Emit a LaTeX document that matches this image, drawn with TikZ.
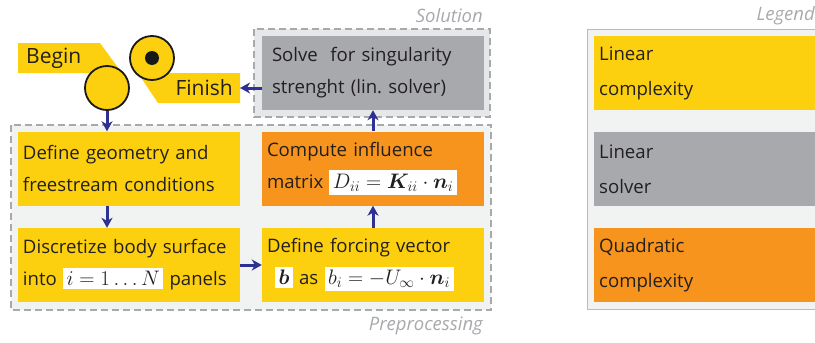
\RequirePackage{fix-cm}
\documentclass[tikz,border=0pt]{standalone}
\usepackage{amsmath,bm}
\usepackage{fontspec}
\setmainfont{Open Sans}
\usetikzlibrary{arrows.meta}
\definecolor{cyel}{HTML}{FDD00F}
\definecolor{cora}{HTML}{F7941D}
\definecolor{cgray}{HTML}{A7A9AC}
\definecolor{cbg}{HTML}{F1F2F2}
\definecolor{cbg2}{HTML}{E6E7E8}
\definecolor{carrow}{HTML}{2E3192}
\definecolor{ctext}{HTML}{231F20}
\newcommand{\mathbx}[1]{{\setlength{\fboxsep}{3.5pt}\colorbox{white}{\fontsize{21}{24}\selectfont$#1$}}}
\begin{document}
\hyphenpenalty=10000
\exhyphenpenalty=10000
\frenchspacing
\begin{tikzpicture}[x=1pt,y=-1pt,
  proc/.style={rectangle, minimum width=222pt, minimum height=74pt, inner xsep=5pt, inner ysep=0pt,
    align=left, text width=212pt, font=\fontsize{18.6}{32}\selectfont, text=ctext},
  legbox/.style={rectangle, anchor=west, minimum width=240pt, minimum height=74pt, inner xsep=5pt, inner ysep=0pt,
    align=left, text width=230pt, font=\fontsize{18.6}{35}\selectfont, text=ctext},
  grp/.style={draw=cgray, dash pattern=on 7pt off 4pt, line width=1.1pt},
  lbl/.style={font=\fontsize{18.5}{22}\selectfont\itshape, text=cgray, inner sep=0pt},
  circ/.style={circle, draw=black!90, line width=1.8pt, fill=cyel, minimum size=44pt, inner sep=0pt},
  bigtxt/.style={font=\fontsize{21}{26}\selectfont, text=ctext, inner sep=0pt},
  arr/.style={draw=carrow, line width=3pt, -{Stealth[length=10pt,width=11pt,inset=3pt]}}]
\useasboundingbox (0,0) rectangle (815,343);
% groups
\draw[grp, fill=cbg] (11,125) rectangle (491,310);
\draw[grp, fill=cbg2] (254,29) rectangle (490,117);
\node[lbl, anchor=east] (solLbl) at (483,16) {Solution};
\node[lbl, anchor=east] (preLbl) at (483,326) {Preprocessing};
% legend
\draw[draw=cgray!80, line width=1pt, fill=cbg] (587,29) rectangle (840,309);
\node[lbl, anchor=east] (legLbl) at (815,16) {Legend};
\node[legbox, fill=cyel] (legA) at (594,73) {Linear\\complexity};
\node[legbox, fill=cgray] (legB) at (594,169) {Linear\\solver};
\node[legbox, fill=cora] (legC) at (594,265) {Quadratic\\complexity};
% process boxes
\node[proc, fill=cyel] (geo) at (129,168.5) {Define geometry and\\freestream conditions};
\node[proc, fill=cyel] (disc) at (129,265) {Discretize body surface\\into \mathbx{i=1\ldots N} panels};
\node[proc, fill=cora] (comp) at (373,168.5) {Compute influence\\matrix \mathbx{D_{ii}=\bm{K}_{ii}\cdot\bm{n}_i}};
\node[proc, fill=cyel] (force) at (373,265) {Define forcing vector\\\hspace*{8pt}\mathbx{\bm{b}} as \mathbx{b_i=-U_\infty\cdot\bm{n}_i}};
\node[proc, fill=cgray, inner xsep=10pt, text width=202pt] (solve) at (373,73) {Solve\ \ for singularity\\strenght (lin. solver)};
% begin / finish
\fill[cyel] (18,43) -- (100,43) -- (122,73) -- (18,73) -- cycle;
\node[bigtxt, anchor=west] (beginTxt) at (26,58) {Begin};
\node[circ] (beginC) at (107,88) {};
\fill[cyel] (138,73) -- (240,73) -- (240,103) -- (158,103) -- cycle;
\node[circ] (finishC) at (152,58) {};
\fill[black!90] (finishC.center) circle (7);
\node[bigtxt, anchor=east] (finishTxt) at (233,88) {Finish};
\coordinate (finishR) at (240,88);
% arrows
\draw[arr] (beginC.south) -- (beginC.south |- geo.north);
\draw[arr] (geo.south -| beginC) -- (disc.north -| beginC);
\draw[arr] (disc.east) -- (force.west);
\draw[arr] (force.north) -- (comp.south);
\draw[arr] (comp.north) -- (solve.south);
\draw[arr] (solve.west |- finishR) -- (finishR);
\end{tikzpicture}
\end{document}
